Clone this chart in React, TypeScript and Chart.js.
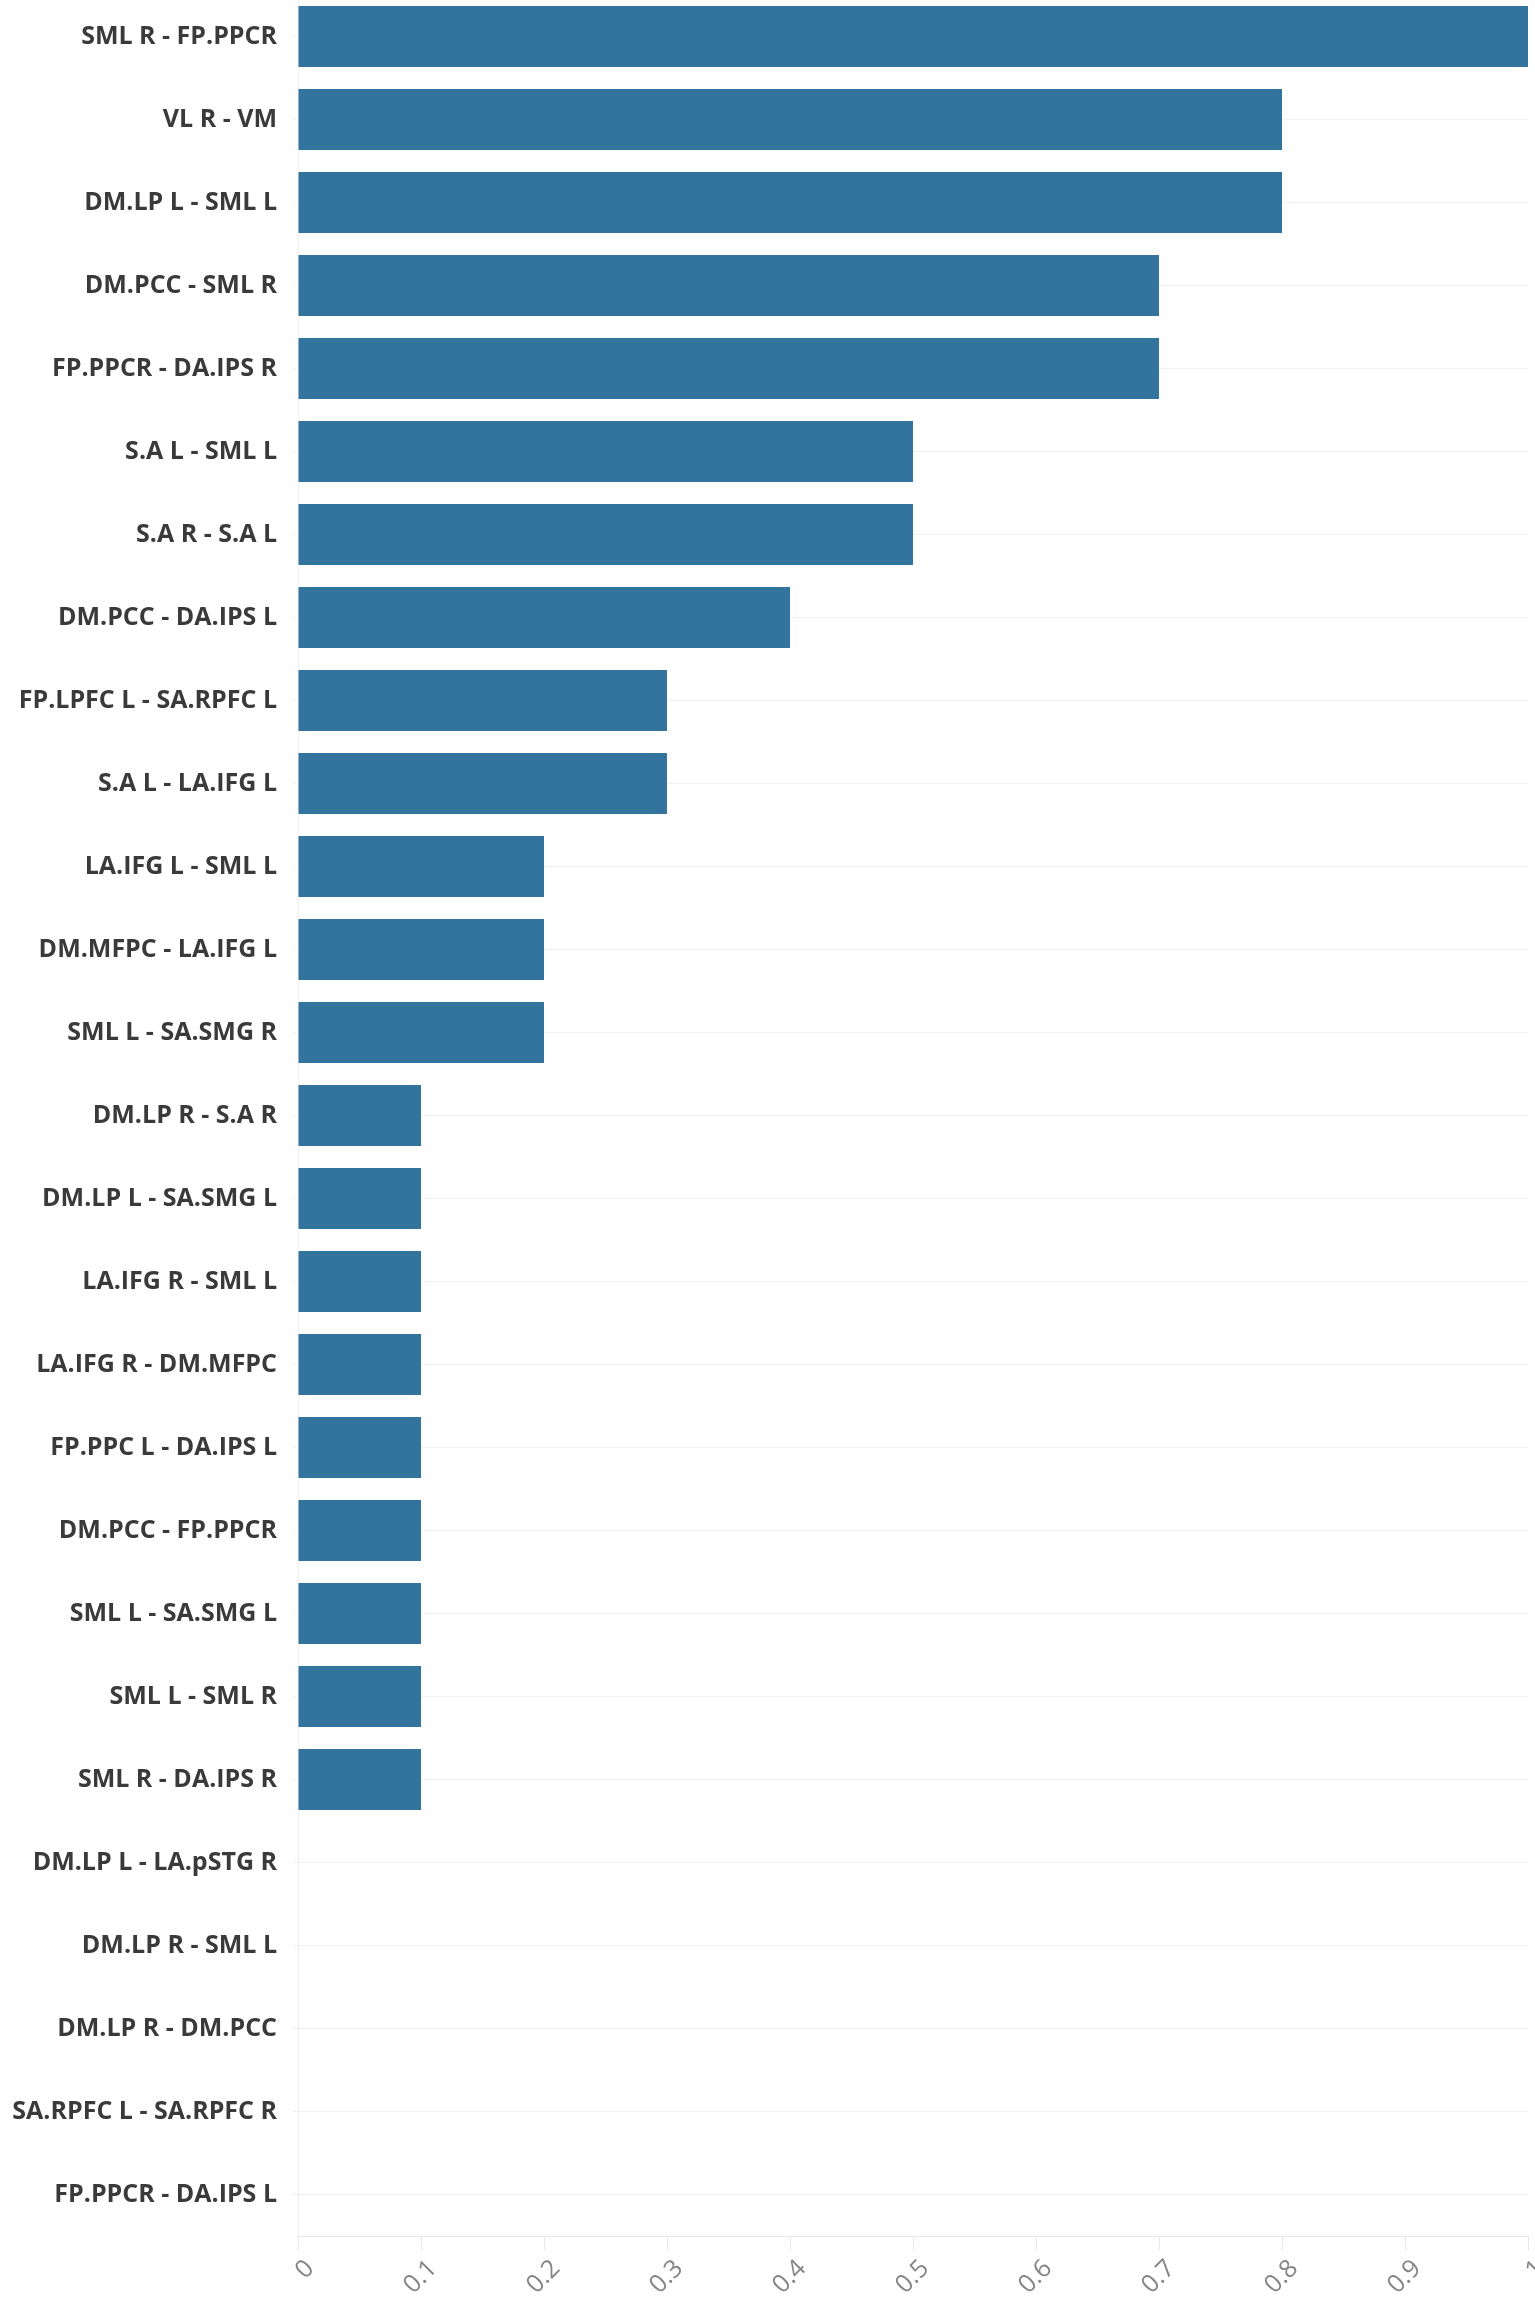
import React, { useEffect, useRef } from "react";
import { Chart, registerables } from "chart.js";

Chart.register(...registerables);

const pairs = [
  "SML R - FP.PPCR",
  "VL R - VM",
  "DM.LP L - SML L",
  "DM.PCC - SML R",
  "FP.PPCR - DA.IPS R",
  "S.A L - SML L",
  "S.A R - S.A L",
  "DM.PCC - DA.IPS L",
  "FP.LPFC L - SA.RPFC L",
  "S.A L - LA.IFG L",
  "LA.IFG L - SML L",
  "DM.MFPC - LA.IFG L",
  "SML L - SA.SMG R",
  "DM.LP R - S.A R",
  "DM.LP L - SA.SMG L",
  "LA.IFG R - SML L",
  "LA.IFG R - DM.MFPC",
  "FP.PPC L - DA.IPS L",
  "DM.PCC - FP.PPCR",
  "SML L - SA.SMG L",
  "SML L - SML R",
  "SML R - DA.IPS R",
  "DM.LP L - LA.pSTG R",
  "DM.LP R - SML L",
  "DM.LP R - DM.PCC",
  "SA.RPFC L - SA.RPFC R",
  "FP.PPCR - DA.IPS L",
];

const values = [
  1.0, 0.8, 0.8, 0.7, 0.7, 0.5, 0.5, 0.4, 0.3, 0.3, 0.2, 0.2, 0.2, 0.1, 0.1,
  0.1, 0.1, 0.1, 0.1, 0.1, 0.1, 0.1, 0, 0, 0, 0, 0,
];

const xTickLabels = ["0", "0.1", "0.2", "0.3", "0.4", "0.5", "0.6", "0.7", "0.8", "0.9", "1"];

export default function App() {
  const chartRef = useRef<HTMLCanvasElement | null>(null);

  useEffect(() => {
    const ctx = chartRef.current?.getContext("2d");
    if (!ctx) return;

    const chart = new Chart(ctx, {
      type: "bar",
      data: {
        labels: pairs,
        datasets: [
          {
            data: values,
            backgroundColor: "#33749f",
            borderWidth: 0,
            categoryPercentage: 1,
            barPercentage: 0.735,
          },
        ],
      },
      options: {
        indexAxis: "y",
        animation: false,
        responsive: true,
        maintainAspectRatio: false,
        layout: { padding: { top: 0, left: 0, bottom: 0, right: 17 } },
        plugins: {
          legend: { display: false },
          tooltip: { enabled: false },
        },
        scales: {
          x: {
            min: 0,
            max: 1,
            ticks: {
              stepSize: 0.1,
              minRotation: 45,
              maxRotation: 45,
              padding: 4,
              labelOffset: 12,
              color: "#858585",
              font: { family: "'Open Sans', sans-serif", size: 25 },
              callback: (_v, i) => xTickLabels[i],
            },
            grid: {
              drawOnChartArea: false,
              drawTicks: true,
              tickLength: 14,
              color: "#e8e8e8",
            },
            border: { display: true, color: "#e8e8e8" },
            afterFit: (scale) => {
              scale.height = 67;
              scale.paddingLeft = 0;
              scale.paddingRight = 0;
            },
          },
          y: {
            ticks: {
              autoSkip: false,
              padding: 16,
              color: "#3a3a3a",
              font: { family: "'Open Sans', sans-serif", size: 25, weight: "bold" },
            },
            grid: {
              offset: false,
              drawTicks: true,
              tickLength: 5,
              color: "#f0f0f0",
            },
            border: { display: true, color: "#f0f0f0" },
            afterFit: (scale) => {
              scale.width = 298;
              scale.paddingTop = 0;
              scale.paddingBottom = 0;
            },
          },
        },
      },
    });

    return () => {
      chart.destroy();
    };
  }, []);

  return (
    <div style={{ position: "absolute", left: 0, top: 0, width: 1535, height: 2303, overflow: "hidden", background: "#fff" }}>
      <div style={{ position: "absolute", left: 0, top: -5, width: 1545, height: 2308 }}>
        <canvas ref={chartRef}></canvas>
      </div>
    </div>
  );
}
